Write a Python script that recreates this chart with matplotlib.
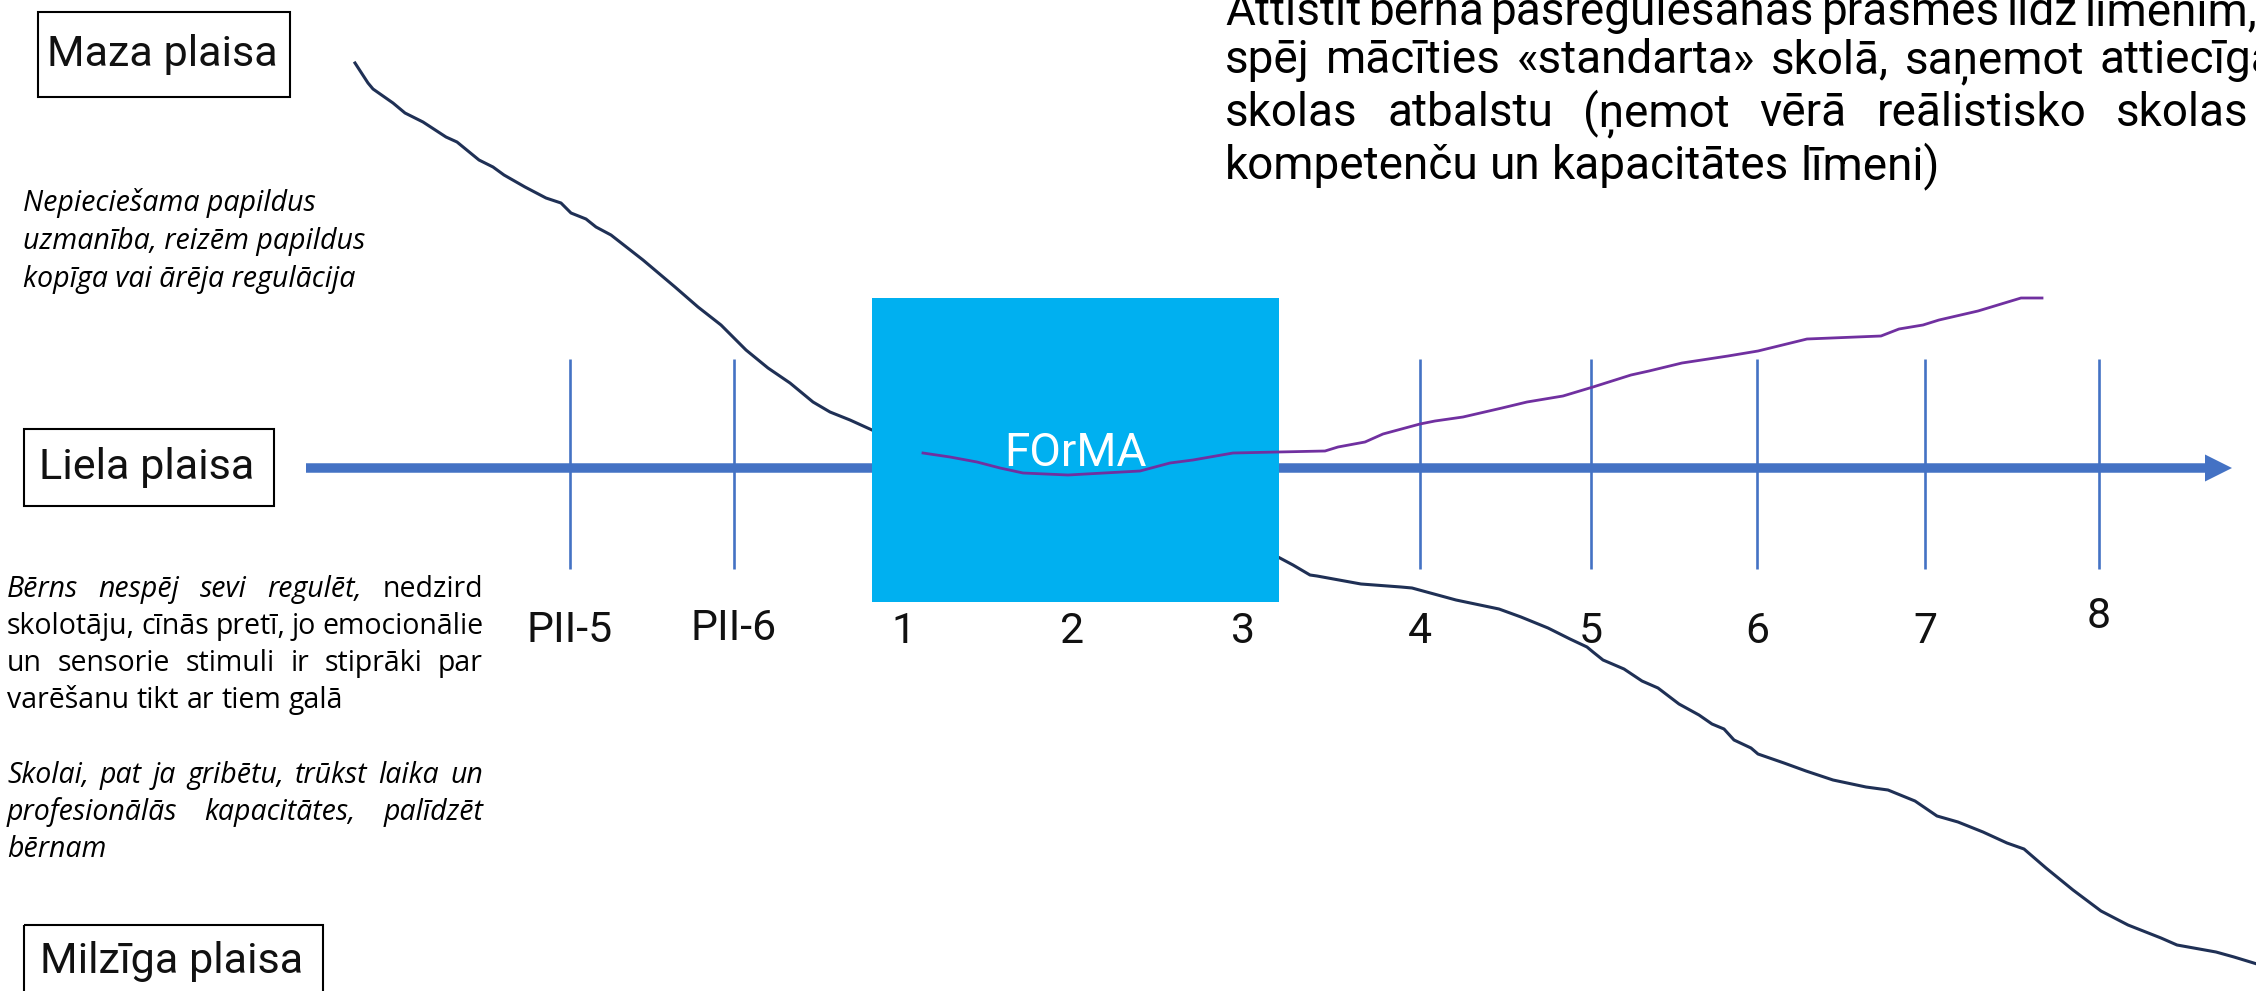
import matplotlib
matplotlib.use('Agg')
import matplotlib.pyplot as plt
from matplotlib.patches import Rectangle, FancyArrow

# slide in pixel units (y grows downwards)
W, H = 2256, 991

# stages on the time axis
stage_labels = ['PII-5', 'PII-6', '1', '2', '3', '4', '5', '6', '7', '8']
stage_x = [570, 734, 903, 1072, 1243, 1420, 1591, 1757, 1925, 2099]
label_base = [642, 640, 643, 643, 643, 643, 643, 643, 643, 628]

# dark line: gap without support
gap_x = [355, 368, 373, 393, 405, 423, 446, 457, 479, 493, 504, 525, 546, 561, 571, 586,
         596, 611, 643, 675, 698, 721, 746, 768, 790, 813, 830, 850, 872, 950, 1100, 1200,
         1278, 1293, 1310, 1317, 1350, 1361, 1401, 1412, 1434, 1456, 1499, 1521, 1548, 1570,
         1587, 1593, 1603, 1624, 1642, 1658, 1679, 1699, 1712, 1724, 1734, 1751, 1758, 1784,
         1806, 1833, 1866, 1888, 1915, 1937, 1958, 1983, 2007, 2024, 2046, 2073, 2101, 2128,
         2161, 2177, 2216, 2234, 2257]
gap_y = [63, 83, 89, 103, 113, 122, 137, 142, 160, 167, 175, 187, 198, 203, 213, 219,
         227, 235, 260, 287, 307, 325, 350, 368, 383, 402, 412, 420, 430, 470, 520, 545,
         557, 565, 575, 576, 582, 584, 587, 588, 594, 600, 609, 617, 628, 639,
         647, 652, 660, 669, 681, 688, 704, 715, 724, 729, 740, 748, 754, 763,
         771, 780, 787, 790, 801, 816, 822, 832, 843, 849, 868, 890, 911, 925,
         938, 945, 952, 957, 964]

# purple line: with FOrMA support
forma_x = [923, 950, 977, 1000, 1023, 1068, 1140, 1170, 1193, 1233, 1278, 1325, 1338, 1365,
           1383, 1420, 1435, 1463, 1502, 1527, 1563, 1593, 1631, 1649, 1682, 1728, 1758,
           1807, 1881, 1899, 1923, 1939, 1978, 2021, 2042]
forma_y = [453, 457, 462, 468, 473, 475, 471, 463, 460, 453, 452, 451, 447, 442,
           434, 424, 421, 417, 408, 402, 396, 387, 375, 371, 363, 356, 351,
           339, 336, 329, 325, 320, 311, 298, 298]

level_labels = ['Maza plaisa', 'Liela plaisa', 'Milzīga plaisa']

AXIS = '#4472C4'
SANS = ['Roboto', 'DejaVu Sans']
TEXT = ['Open Sans', 'DejaVu Sans']

fig = plt.figure(figsize=(W / 100, H / 100), dpi=100)
ax = fig.add_axes([0, 0, 1, 1])
ax.set_xlim(0, W)
ax.set_ylim(H, 0)
ax.axis('off')
r = fig.canvas.get_renderer()


def width(s, **kw):
    t = ax.text(0, 0, s, **kw)
    w = t.get_window_extent(renderer=r).width
    t.remove()
    return w


def fit(s, target, **kw):
    # font size (pt) giving the text the width seen in the slide
    return 20 * target / width(s, fontsize=20, **kw)


def justify(words, x0, y, size, family, styles=None, x1=None, last_x=None, color='black'):
    styles = styles or ['normal'] * len(words)
    ws = [width(w, fontsize=size, family=family, style=s) for w, s in zip(words, styles)]
    space = (width('a a', fontsize=size, family=family)
             - 2 * width('a', fontsize=size, family=family))
    if last_x is not None:
        x1 = last_x + ws[-1]
    gap = space if x1 is None or len(words) < 2 else (x1 - x0 - sum(ws)) / (len(words) - 1)
    x = x0
    for w, s, wd in zip(words, styles, ws):
        ax.text(x, y, w, fontsize=size, family=family, style=s, color=color,
                ha='left', va='baseline', zorder=6)
        x += wd + gap


# time axis with ticks
ax.add_patch(FancyArrow(306, 468, 2232 - 306, 0, width=9.5, head_width=27, head_length=27,
                        length_includes_head=True, color=AXIS, lw=0, zorder=1))
ax.vlines(stage_x, 359, 569, color=AXIS, lw=1.9, zorder=2)
lab_size = 1.05 * fit('PII-5', 82, family=SANS)
for s, x, y in zip(stage_labels, stage_x, label_base):
    ax.text(x, y, s, fontsize=lab_size, family=SANS, color='#111111',
            ha='center', va='baseline', zorder=6)

# curves
ax.plot(gap_x, gap_y, color='#1f3055', lw=2.2, solid_joinstyle='round', zorder=3)
ax.add_patch(Rectangle((872, 298), 407, 304, color='#00B0F0', lw=0, zorder=4))
ax.plot(forma_x, forma_y, color='#7030A0', lw=2.0, solid_joinstyle='round', zorder=5)
ax.text(1075, 466, 'FOrMA', color='white', family=SANS, va='baseline', ha='center',
        fontsize=1.05 * fit('FOrMA', 136, family=SANS), zorder=6)

# level boxes on the left
boxes = [(38, 12, 252, 85), (24, 429, 250, 77), (24, 925, 299, 90)]
box_text_w = [220, 203, 253]
box_size = 1.06 * min(fit(s, w, family=SANS) for s, w in zip(level_labels, box_text_w))
for s, (bx, by, bw, bh) in zip(level_labels, boxes):
    ax.add_patch(Rectangle((bx, by), bw, bh, fill=False, ec='black', lw=1.5, zorder=6))
    ax.text(bx + bw / 2 - 2, min(by + bh / 2, 962), s, fontsize=box_size, family=SANS,
            color='#111111', ha='center', va='center', zorder=6)

# italic note under "Maza plaisa"
note = ['Nepieciešama papildus', 'uzmanība, reizēm papildus', 'kopīga vai ārēja regulācija']
note_size = fit(note[1], 342, family=TEXT, style='italic')
for line, y in zip(note, [211, 249, 287]):
    ax.text(23, y, line, fontsize=note_size, family=TEXT, style='italic',
            ha='left', va='baseline', zorder=6)

# paragraphs under "Liela plaisa"
par_size = 1.03 * fit('varēšanu tikt ar tiem galā', 326, family=TEXT)
it, up = 'italic', 'normal'
par = [
    ('Bērns nespēj sevi regulēt, nedzird'.split(), [it, it, it, it, up], 597, False),
    ('skolotāju, cīnās pretī, jo emocionālie'.split(), None, 634, False),
    ('un sensorie stimuli ir stiprāki par'.split(), None, 671, False),
    ('varēšanu tikt ar tiem galā'.split(), None, 708, True),
    ('Skolai, pat ja gribētu, trūkst laika un'.split(), [it] * 8, 783, False),
    ('profesionālās kapacitātes, palīdzēt'.split(), [it] * 3, 820, False),
    (['bērnam'], [it], 857, True),
]
for words, st, y, last in par:
    justify(words, 7, y, par_size, TEXT, styles=st, x1=None if last else 483)

# goal text at the top right (runs past the slide edge)
goal_size = 1.05 * fit('kompetenču un kapacitātes līmeni)', 678, family=SANS)
goal = [
    ('Attīstīt bērna pašregulēšanās prasmes līdz līmenim,'.split(), 25, 2085),
    ('spēj mācīties «standarta» skolā, saņemot attiecīgas'.split(), 73, 2100),
    ('skolas atbalstu (ņemot vērā reālistisko skolas'.split(), 126, 2116),
    ('kompetenču un kapacitātes līmeni)'.split(), 179, None),
]
for words, y, lx in goal:
    justify(words, 1225, y, goal_size, SANS, last_x=lx)

fig.savefig('out.png', dpi=100)
